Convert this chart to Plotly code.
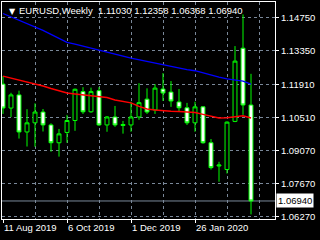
import plotly.graph_objects as go
import pandas as pd

# ---- data (EURUSD weekly) ----
dates = pd.date_range("2019-08-11", periods=32, freq="7D")
opens = [1.1192, 1.1090, 1.1146, 1.0988, 1.1027, 1.1073, 1.1018, 1.0942,
         1.0986, 1.1037, 1.1160, 1.1074, 1.1164, 1.1018, 1.1052, 1.1020,
         1.1018, 1.1052, 1.1128, 1.1082, 1.1171, 1.1158, 1.1116, 1.1091,
         1.1027, 1.1095, 1.0942, 1.0843, 1.0828, 1.1033, 1.1345, 1.11030]
highs = [1.1226, 1.1155, 1.1164, 1.1085, 1.1110, 1.1086, 1.1025, 1.1001,
         1.1061, 1.1173, 1.1179, 1.1177, 1.1179, 1.1056, 1.1099, 1.1035,
         1.1117, 1.1196, 1.1174, 1.1192, 1.1239, 1.1205, 1.1171, 1.1112,
         1.1117, 1.1098, 1.0958, 1.0861, 1.1033, 1.1354, 1.1489, 1.12358]
lows = [1.1065, 1.1052, 1.0960, 1.0926, 1.0925, 1.0990, 1.0904, 1.0883,
        1.0942, 1.0993, 1.1065, 1.1070, 1.1014, 1.0989, 1.1010, 1.0981,
        1.0989, 1.1040, 1.1065, 1.1065, 1.1120, 1.1095, 1.1074, 1.1018,
        1.0989, 1.0938, 1.0828, 1.0776, 1.0811, 1.1030, 1.1061, 1.06368]
closes = [1.1090, 1.1146, 1.0988, 1.1027, 1.1073, 1.1018, 1.0942, 1.0980,
          1.1037, 1.1170, 1.1074, 1.1160, 1.1018, 1.1052, 1.1018, 1.1016,
          1.1052, 1.1113, 1.1073, 1.1175, 1.1154, 1.1120, 1.1091, 1.1027,
          1.1095, 1.0942, 1.0836, 1.0847, 1.1030, 1.1290, 1.1103, 1.06940]
ma_blue = [1.1493, 1.1479, 1.1464, 1.1451, 1.1438, 1.1421, 1.1404, 1.1387,
           1.1370, 1.1362, 1.1353, 1.1345, 1.1336, 1.1328, 1.1320, 1.1311,
           1.1303, 1.1296, 1.1290, 1.1281, 1.1273, 1.1267, 1.1260, 1.1254,
           1.1249, 1.1239, 1.1230, 1.1222, 1.1214, 1.1209, 1.1205, 1.1192]
ma_red = [1.1226, 1.1218, 1.1209, 1.1201, 1.1194, 1.1184, 1.1173, 1.1163,
          1.1154, 1.1150, 1.1146, 1.1144, 1.1141, 1.1135, 1.1124, 1.1118,
          1.1112, 1.1097, 1.1086, 1.1082, 1.1078, 1.1076, 1.1075, 1.1073,
          1.1071, 1.1063, 1.1055, 1.1048, 1.1049, 1.1054, 1.1057, 1.1048]
y_ticks = [1.14750, 1.13350, 1.11910, 1.10510, 1.09070, 1.07670, 1.06270]
y_tick_labels = ["1.14750", "1.13350", "1.11910", "1.10510", "1.09070", "1.07670", "1.06270"]
x_tick_dates = ["2019-08-11", "2019-10-06", "2019-12-01", "2020-01-26"]
x_tick_labels = ["11 Aug 2019", "6 Oct 2019", "1 Dec 2019", "26 Jan 2020"]
x_minor_dates = ["2019-09-08", "2019-11-03", "2019-12-29", "2020-02-23", "2020-03-22"]
title_text = "EURUSD,Weekly  1.11030 1.12358 1.06368 1.06940"
last_price = 1.06940
last_label = "1.06940"

FONT = "Liberation Sans, Arial, sans-serif"
GRID = "#7a8899"
LIME = "#00ff00"

fig = go.Figure()
fig.add_trace(go.Candlestick(
    x=dates, open=opens, high=highs, low=lows, close=closes,
    increasing=dict(line=dict(color=LIME, width=1), fillcolor="black"),
    decreasing=dict(line=dict(color=LIME, width=1), fillcolor="white"),
    whiskerwidth=0, showlegend=False, hoverinfo="skip"))
fig.add_trace(go.Scatter(x=dates, y=ma_blue, mode="lines",
                         line=dict(color="#0000ff", width=1.3), showlegend=False))
fig.add_trace(go.Scatter(x=dates, y=ma_red, mode="lines",
                         line=dict(color="#ff0000", width=1.5), showlegend=False))

week = pd.Timedelta(days=7)
x0 = dates[0] - week / 8
x1 = dates[0] + week * 34

fig.add_shape(type="line", xref="paper", x0=0, x1=1, yref="y", y0=last_price, y1=last_price,
              line=dict(color=GRID, width=1), layer="below")

fig.update_layout(
    width=320, height=240,
    margin=dict(l=2, r=45, t=2, b=21, pad=0),
    paper_bgcolor="black", plot_bgcolor="black",
    font=dict(family=FONT, size=9.5, color="white"),
    showlegend=False,
    xaxis=dict(
        type="date", range=[x0, x1], rangeslider=dict(visible=False),
        tickvals=x_tick_dates, ticktext=x_tick_labels,
        ticks="outside", ticklen=3, tickcolor="white",
        ticklabelposition="outside right",
        showline=True, linecolor="white", linewidth=1, mirror=True,
        showgrid=True, gridcolor=GRID, griddash="3px,3px", gridwidth=1,
        minor=dict(tickvals=x_minor_dates, showgrid=True, gridcolor=GRID,
                   griddash="3px,3px", ticks=""),
        zeroline=False, tickfont=dict(family=FONT, size=9.5, color="white"),
    ),
    yaxis=dict(
        side="right", range=[1.06172, 1.15419],
        tickvals=y_ticks, ticktext=y_tick_labels,
        ticks="outside", ticklen=3, tickcolor="white",
        showline=True, linecolor="white", linewidth=1, mirror=True,
        showgrid=True, gridcolor=GRID, griddash="3px,3px", gridwidth=1,
        zeroline=False, tickfont=dict(family=FONT, size=9.5, color="white"),
    ),
    annotations=[
        dict(text="▼", xref="paper", yref="paper", x=0, y=1, xanchor="left", yanchor="top",
             xshift=5, yshift=-3, showarrow=False,
             font=dict(family="DejaVu Sans", size=8, color="white")),
        dict(text=title_text, xref="paper", yref="paper", x=0, y=1, xanchor="left", yanchor="top",
             xshift=15, yshift=-1, showarrow=False,
             font=dict(family=FONT, size=9.5, color="white")),
        dict(text=last_label, xref="paper", yref="y", x=1, y=last_price, xanchor="left",
             yanchor="middle", xshift=1, showarrow=False, bgcolor="white", borderpad=1,
             font=dict(family=FONT, size=9.5, color="black")),
    ],
)

fig.write_html("out.html")
